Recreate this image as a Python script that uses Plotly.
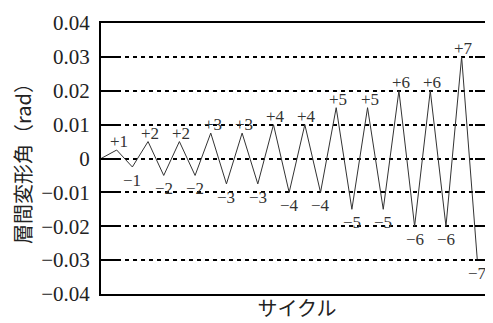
import plotly.graph_objects as go

# ---- data ----
step = list(range(25))
drift = [0, 0.0025, -0.0025, 0.005, -0.005, 0.005, -0.005,
         0.0075, -0.0075, 0.0075, -0.0075,
         0.01, -0.01, 0.01, -0.01,
         0.015, -0.015, 0.015, -0.015,
         0.02, -0.02, 0.02, -0.02,
         0.03, -0.03]
peak_labels = ["", "+1", "−1", "+2", "−2", "+2", "−2",
               "+3", "−3", "+3", "−3",
               "+4", "−4", "+4", "−4",
               "+5", "−5", "+5", "−5",
               "+6", "−6", "+6", "−6",
               "+7", "−7"]
y_tickvals = [-0.04, -0.03, -0.02, -0.01, 0, 0.01, 0.02, 0.03, 0.04]
y_ticktext = ["−0.04", "−0.03", "−0.02", "−0.01", "0",
              "0.01", "0.02", "0.03", "0.04"]

SERIF = "Liberation Serif"
CJK = "Noto Sans CJK JP"

fig = go.Figure()
fig.add_trace(go.Scatter(x=step, y=drift, mode="lines",
                         line=dict(color="#333333", width=1),
                         hoverinfo="skip", showlegend=False))
# invisible copy on the right-side axis so its inside ticks are drawn
fig.add_trace(go.Scatter(x=step, y=drift, mode="lines", yaxis="y2",
                         line=dict(color="rgba(0,0,0,0)", width=0),
                         hoverinfo="skip", showlegend=False))

annotations = []
for xv, yv, lab in zip(step, drift, peak_labels):
    if not lab:
        continue
    up = yv > 0
    annotations.append(dict(
        x=xv, y=yv, xref="x", yref="y", text=lab, showarrow=False,
        xanchor="center", yanchor="bottom" if up else "top",
        xshift=2 if up else 0, yshift=-3 if up else -2,
        font=dict(family=SERIF, size=17, color="#333333")))

# the page body adds an 8px offset; the figure is sized to end at the window edge
fig.update_layout(
    width=485, height=315,
    margin=dict(l=93, r=0, t=15, b=29, autoexpand=False),
    paper_bgcolor="white", plot_bgcolor="white",
    font=dict(family=SERIF),
    annotations=annotations,
    xaxis=dict(range=[0, 25], showgrid=False, zeroline=False,
               showticklabels=False, ticks="",
               showline=True, linecolor="black", linewidth=2, mirror=True,
               automargin=False,
               title=dict(text="サイクル", standoff=7,
                          font=dict(family=CJK, size=20, color="#222222"))),
    yaxis=dict(range=[-0.04, 0.04], tickvals=y_tickvals, ticktext=y_ticktext,
               ticks="inside", ticklen=17, tickwidth=2, tickcolor="black",
               showgrid=True, gridcolor="black", gridwidth=2,
               griddash="4px,4px", zeroline=False,
               showline=True, linecolor="black", linewidth=2,
               ticklabelstandoff=5, automargin=False,
               tickfont=dict(family=SERIF, size=21, color="#222222"),
               title=dict(text="層間変形角（rad）", standoff=5,
                          font=dict(family=CJK, size=20, color="#222222"))),
    yaxis2=dict(range=[-0.04, 0.04], overlaying="y", side="right",
                tickvals=y_tickvals, ticks="inside", ticklen=18,
                tickwidth=2, tickcolor="black", showticklabels=False,
                showgrid=False, zeroline=False, showline=False,
                automargin=False),
)

fig.write_html("out.html")
